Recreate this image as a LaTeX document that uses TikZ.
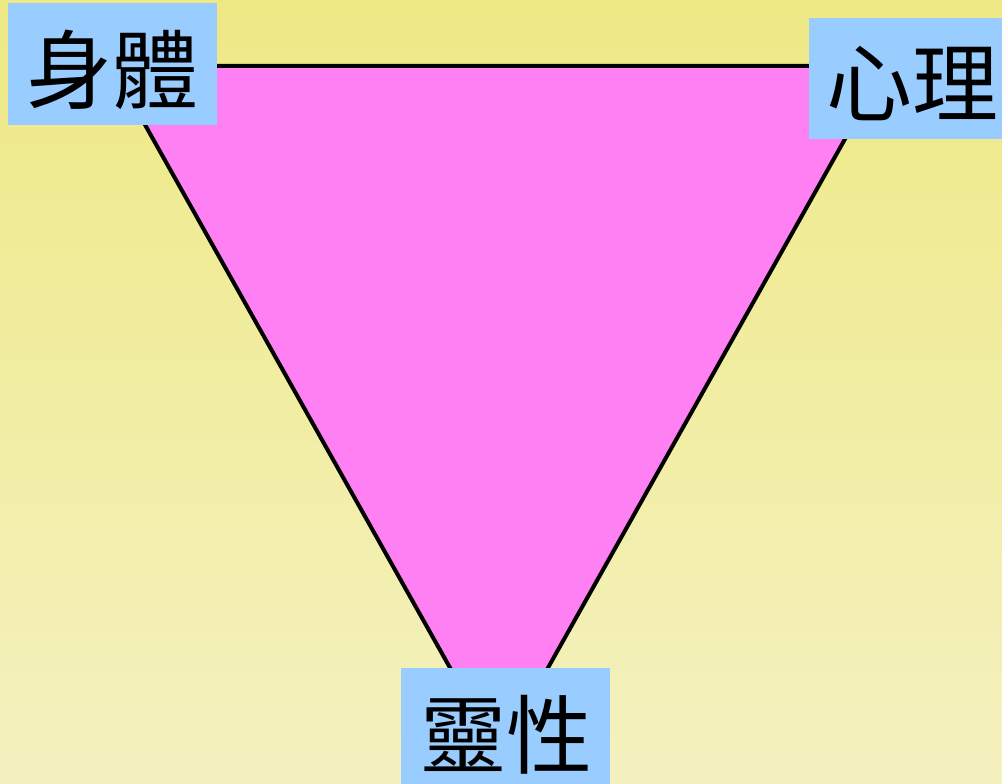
\documentclass[tikz,border=0pt]{standalone}
\usepackage{fontspec}
\newfontfamily\cjk{Noto Sans CJK TC}
\definecolor{bgtop}{RGB}{238,233,133}
\definecolor{bgbot}{RGB}{244,241,192}
\definecolor{tri}{RGB}{255,128,242}
\definecolor{boxc}{RGB}{153,204,255}
\tikzset{
  lbox/.style={fill=boxc, draw=none, inner sep=0pt},
  lbl/.style={font=\cjk\fontsize{86}{94}\selectfont, text=black, inner sep=0pt},
  triline/.style={draw=black, line width=4pt, fill=tri, line join=miter}
}
\begin{document}
\begin{tikzpicture}[x=1pt,y=-1pt]
\shade[top color=bgtop, bottom color=bgbot] (0,0) rectangle (1002,784);
\useasboundingbox (0,0) rectangle (1002,784);
\coordinate (A) at (112,66);
\coordinate (B) at (886,66);
\coordinate (C) at (499,755);
\path[triline] (A) -- (B) -- (C) -- cycle;
\node[lbox, minimum width=209pt, minimum height=122pt] (body) at (112.5,64) {};
\node[lbox, minimum width=193pt, minimum height=121pt] (mind) at (905.5,78.5) {};
\node[lbox, minimum width=209pt, minimum height=116pt] (spirit) at (505.5,726) {};
\node[lbl] (tbody) at (113,70) {身體};
\node[lbl] (tmind) at (912,84) {心理};
\node[lbl] (tspirit) at (506,735) {靈性};
\end{tikzpicture}
\end{document}
